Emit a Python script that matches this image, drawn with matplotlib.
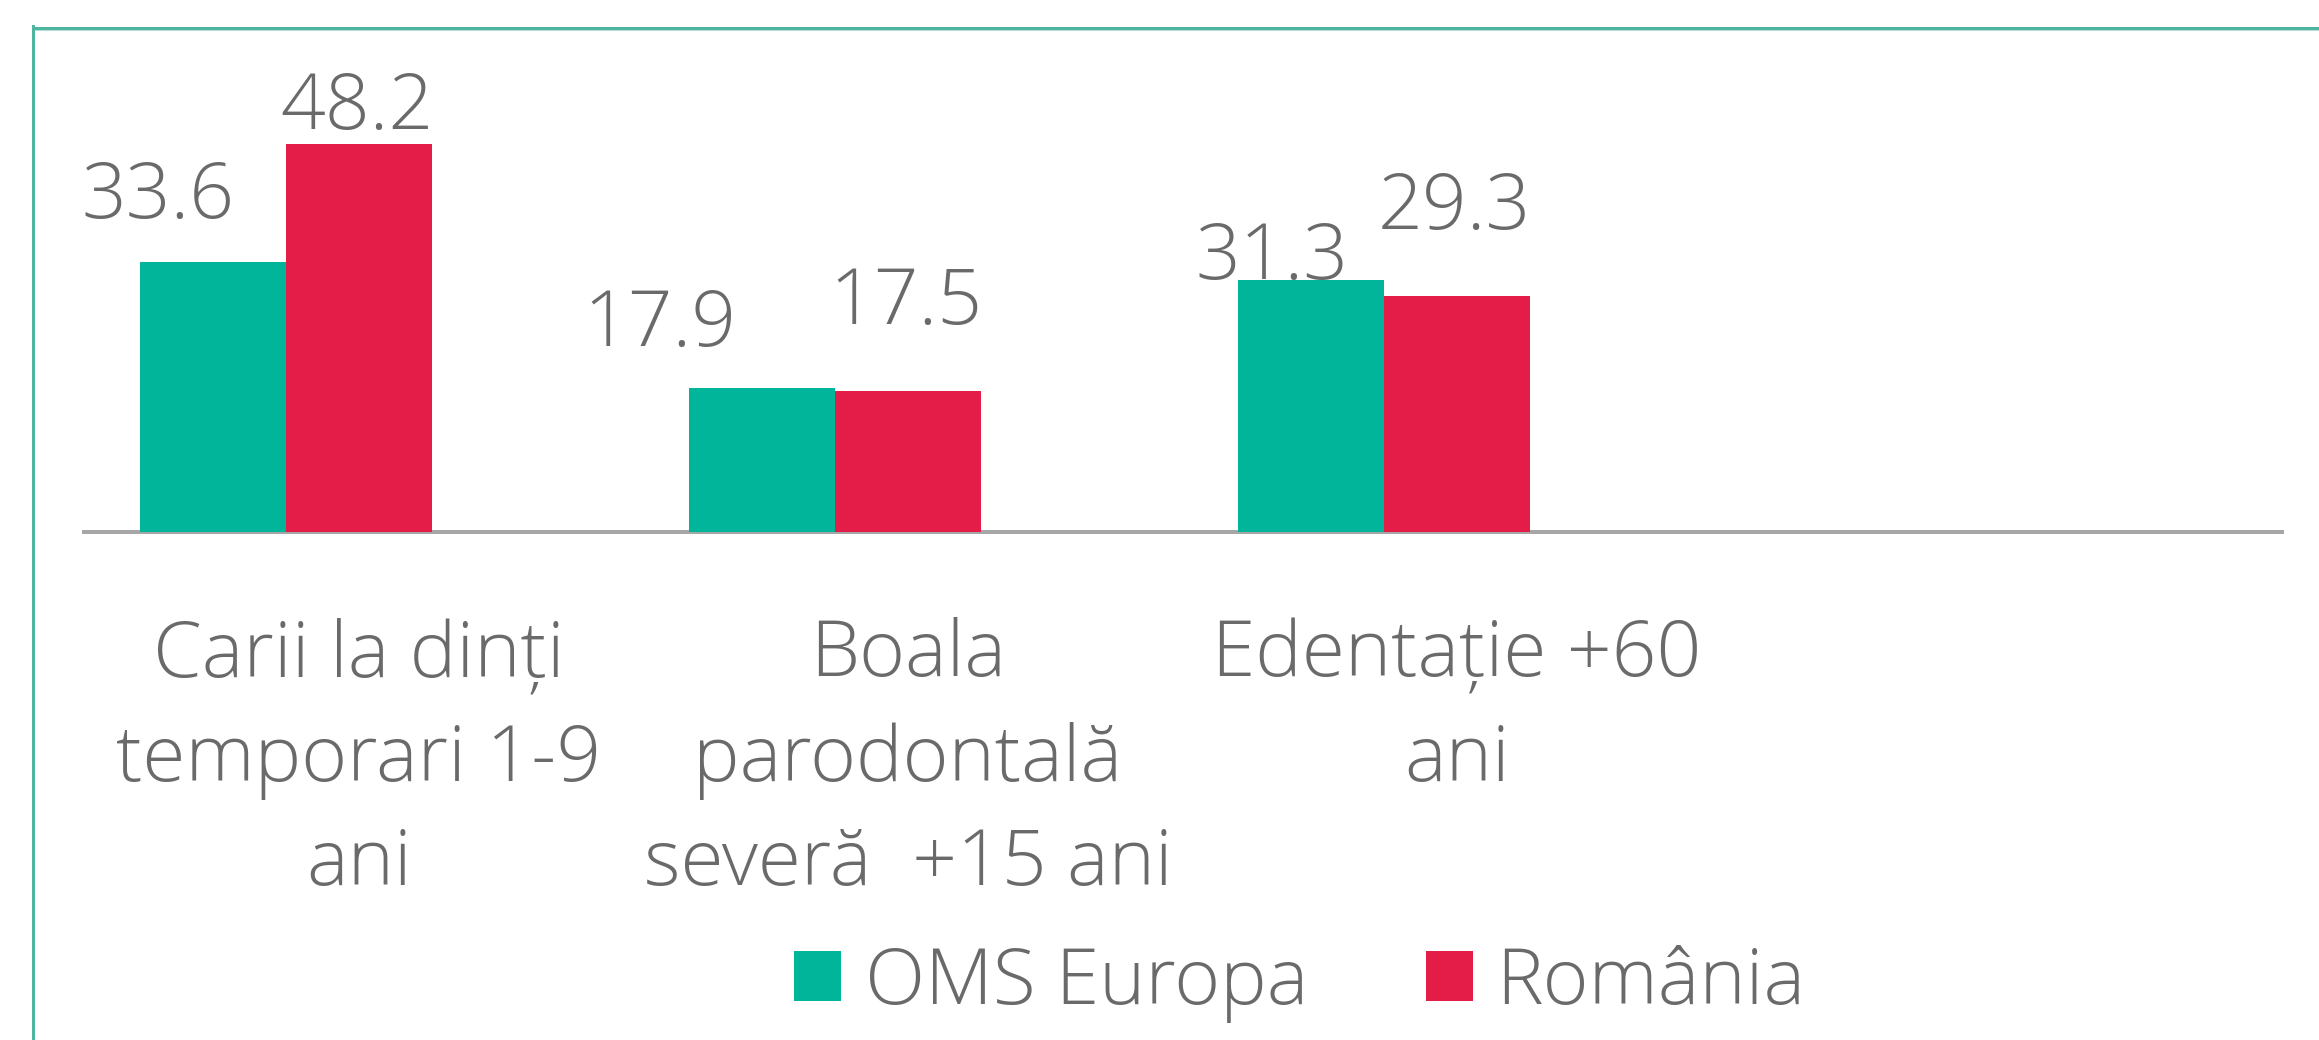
import matplotlib
matplotlib.use("Agg")
import matplotlib.pyplot as plt
from matplotlib.lines import Line2D

# ---- data ----
categories = ["Carii la dinți\ntemporari 1-9\nani",
              "Boala\nparodontală\nseveră  +15 ani",
              "Edentație +60\nani"]
series_names = ["OMS Europa", "România"]
oms_europa = [33.6, 17.9, 31.3]
romania = [48.2, 17.5, 29.3]

# ---- style ----
W, H = 2319, 1040
DPI = 100
PX = 72.0 / DPI  # points per pixel
TEAL = "#00b59a"
RED = "#e31c48"
TXT = "#6a6a6a"
BORDER = "#4fb5a0"
FS = 56.5
WEIGHT = 300

plt.rcParams["font.family"] = ["Open Sans", "DejaVu Sans"]
plt.rcParams["font.weight"] = WEIGHT

fig = plt.figure(figsize=(W / DPI, H / DPI), dpi=DPI)
fig.patch.set_facecolor("white")

# axes placement in pixels
ax_left, ax_right = 84, 2282
ax_base, ax_top = 532, 27
ax = fig.add_axes([ax_left / W, 1 - ax_base / H,
                   (ax_right - ax_left) / W, (ax_base - ax_top) / H])

unit = 549.0  # px per category
x0 = 286.0    # px of first group center
ax.set_xlim((ax_left - x0) / unit, (ax_right - x0) / unit)
px_per_val = 8.05
ax.set_ylim(0, (ax_base - ax_top) / px_per_val)

bw = 146.0 / unit
xs = list(range(len(categories)))
b1 = ax.bar([x - bw / 2 for x in xs], oms_europa, width=bw, color=TEAL,
            label=series_names[0], zorder=3)
b2 = ax.bar([x + bw / 2 for x in xs], romania, width=bw, color=RED,
            label=series_names[1], zorder=3)

# data labels (manually offset as in reference), offsets in pixels (dx, gap above bar)
oms_offsets = [(-55, 44), (-102, 42), (-39, 1)]
rom_offsets = [(-2, 15), (-2.5, 67), (-3, 67)]
for bars, vals, offs in ((b1, oms_europa, oms_offsets), (b2, romania, rom_offsets)):
    for rect, v, (dx, dy) in zip(bars, vals, offs):
        ax.annotate(f"{v:.1f}", xy=(rect.get_x() + rect.get_width() / 2, v),
                    xytext=(dx * PX, dy * PX), textcoords="offset points",
                    ha="center", va="baseline", fontsize=FS, color=TXT,
                    fontweight=WEIGHT, zorder=4)

# category labels
for x, lab in zip(xs, categories):
    ax.annotate(lab, xy=(x + bw / 2, 0), xytext=(0, -85 * PX),
                textcoords="offset points", ha="center", va="top",
                fontsize=FS, color=TXT, fontweight=WEIGHT, linespacing=1.45,
                annotation_clip=False)

for s in ("top", "right", "left"):
    ax.spines[s].set_visible(False)
ax.spines["bottom"].set_color("#a6a6a6")
ax.spines["bottom"].set_linewidth(4 * PX)
ax.spines["bottom"].set_zorder(2)
ax.set_xticks([])
ax.set_yticks([])
ax.patch.set_alpha(0)

# legend
leg = ax.legend(handles=[b1, b2], labels=series_names, ncol=2, frameon=False,
                loc="center", bbox_to_anchor=(1300 / W, 1 - 984 / H),
                bbox_transform=fig.transFigure,
                prop={"size": FS, "weight": WEIGHT},
                handlelength=0.6, handleheight=0.6, handletextpad=0.3,
                columnspacing=1.5, borderpad=0, borderaxespad=0)
for t in leg.get_texts():
    t.set_color(TXT)

# outer frame lines (top and left)
fig.add_artist(Line2D([32.5 / W, 1], [1 - 27.5 / H, 1 - 27.5 / H],
                      color=BORDER, lw=3 * PX, transform=fig.transFigure))
fig.add_artist(Line2D([32.5 / W, 1], [1 - 29.5 / H, 1 - 29.5 / H],
                      color="#b3e0d6", lw=1 * PX, transform=fig.transFigure))
fig.add_artist(Line2D([33 / W, 33 / W], [0, 1 - 26 / H],
                      color=BORDER, lw=3 * PX, transform=fig.transFigure))

fig.savefig("out.png", dpi=DPI, facecolor="white")
